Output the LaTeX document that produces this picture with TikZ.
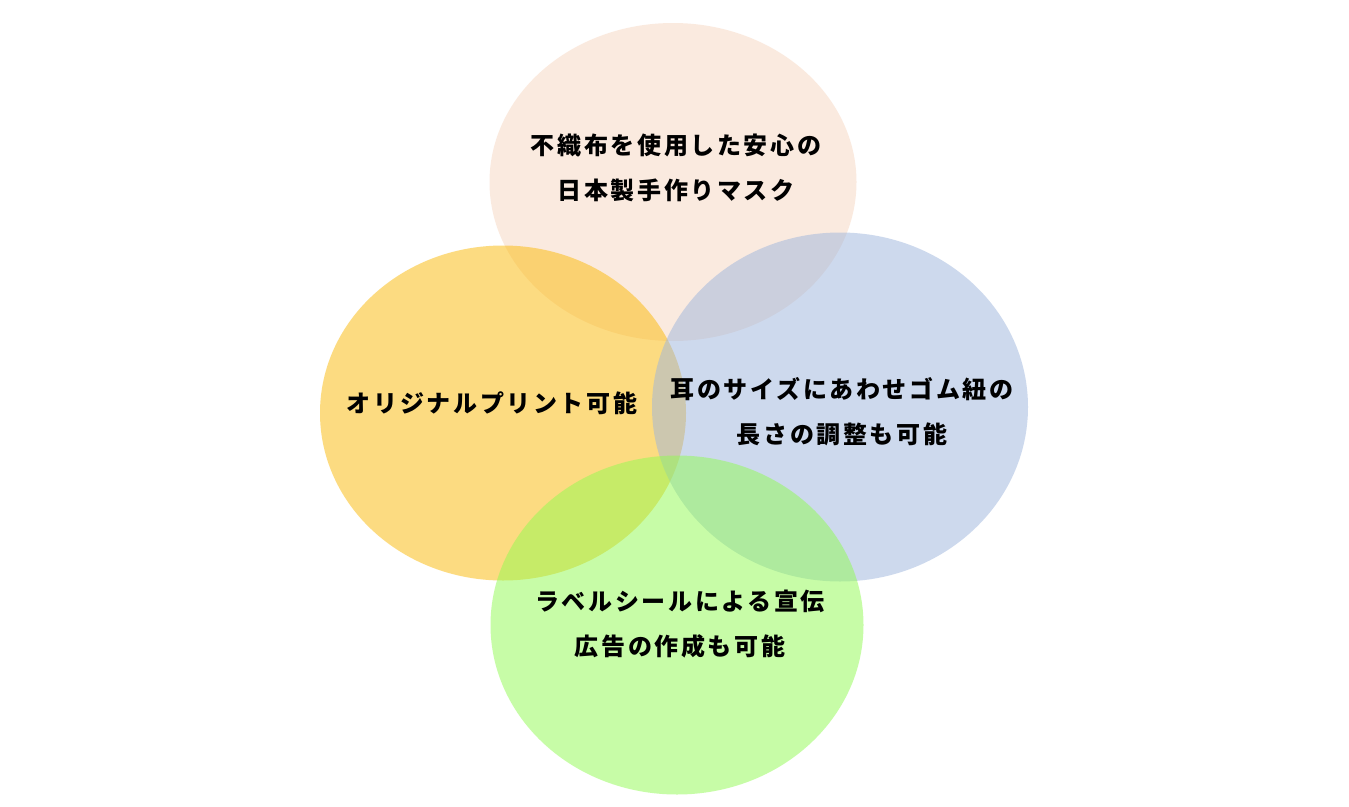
\documentclass[tikz,border=0pt]{standalone}
\usepackage{fontspec}
\newfontfamily\cjk{Noto Sans CJK JP}[LetterSpace=11]
\definecolor{cTop}{RGB}{247,215,193}
\definecolor{cLeft}{RGB}{251,185,5}
\definecolor{cRight}{RGB}{157,181,221}
\definecolor{cBottom}{RGB}{145,251,81}
\tikzset{
  blob/.style={ellipse, inner sep=0pt, fill opacity=0.5, draw=none},
  lbl/.style={font=\cjk\fontsize{24}{45}\selectfont\bfseries, align=center, text=black, inner sep=0pt},
}
\usetikzlibrary{shapes.geometric}
\begin{document}
\begin{tikzpicture}[x=1pt,y=-1pt]
\useasboundingbox (0,0) rectangle (1349,806);
\fill[white] (0,0) rectangle (1349,806);
\node[blob, fill=cTop, minimum width=367pt, minimum height=318pt] (top) at (673,182) {};
\node[blob, fill=cLeft, minimum width=366pt, minimum height=335pt] (left) at (503,413) {};
\node[blob, fill=cRight, minimum width=376pt, minimum height=349pt] (right) at (840,407) {};
\node[blob, fill=cBottom, minimum width=373pt, minimum height=339pt] (bottom) at (677,625) {};
\node[lbl] (ttop) at (676,168) {不織布を使用した安心の\\日本製手作りマスク};
\node[lbl] (tleft) at (492,403) {オリジナルプリント可能};
\node[lbl] (tright) at (842,412) {耳のサイズにあわせゴム紐の\\長さの調整も可能};
\node[lbl] (tbottom) at (680,624) {ラベルシールによる宣伝\\広告の作成も可能};
\end{tikzpicture}
\end{document}
